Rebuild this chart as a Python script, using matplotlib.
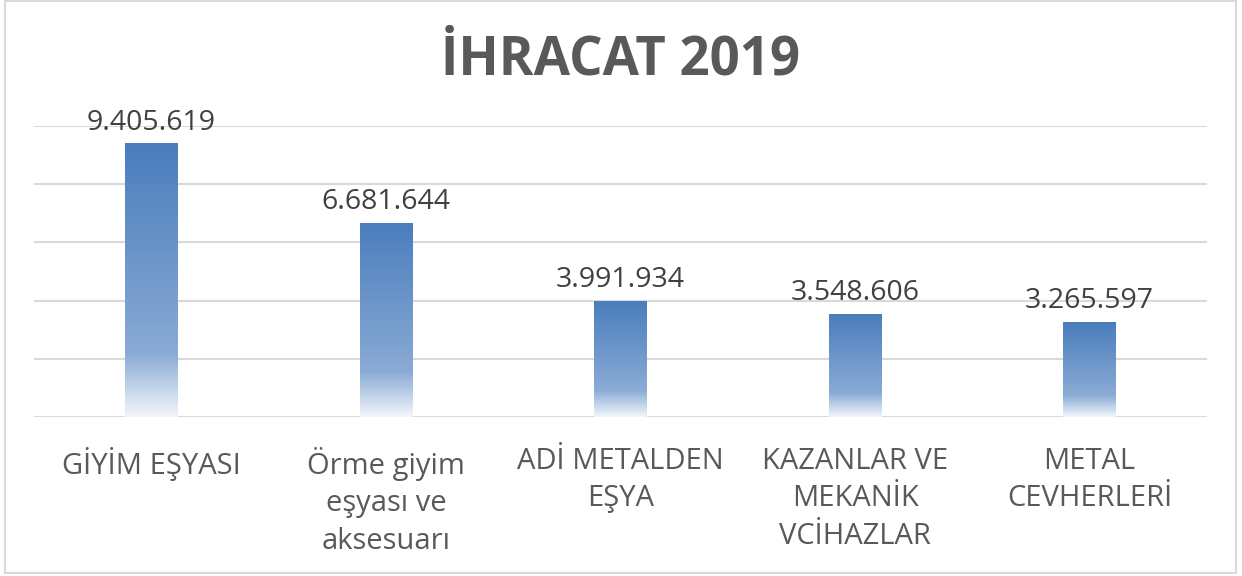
import matplotlib.pyplot as plt
import numpy as np
from matplotlib.colors import LinearSegmentedColormap
from matplotlib.patches import Rectangle

# --- Data ---
categories = ["GİYİM EŞYASI", "Örme giyim\neşyası ve\naksesuarı", "ADİ METALDEN\nEŞYA",
              "KAZANLAR VE\nMEKANİK\nVCİHAZLAR", "METAL\nCEVHERLERİ"]
values = [9405619, 6681644, 3991934, 3548606, 3265597]
value_labels = ["9.405.619", "6.681.644", "3.991.934", "3.548.606", "3.265.597"]

plt.rcParams['font.family'] = ['Open Sans', 'DejaVu Sans']

fig = plt.figure(figsize=(12.42, 5.76), dpi=100)
ax = fig.add_axes([0.0274, 0.276, 0.9444, 0.505])

# gradient: blue at top -> lighter blue -> almost white at bottom
cmap = LinearSegmentedColormap.from_list(
    "bar_grad", [(0.0, "#4a7dbd"), (0.77, "#8aabd5"), (1.0, "#f2f6fb")])
grad = np.linspace(0, 1, 256).reshape(-1, 1)

x = np.arange(len(categories))
bars = ax.bar(x, values, width=0.225, color="none", zorder=3)
for b in bars:
    x0, w, h = b.get_x(), b.get_width(), b.get_height()
    im = ax.imshow(grad, cmap=cmap, aspect="auto", extent=[x0, x0 + w, 0, h],
                   origin="upper", zorder=3)
    im.set_clip_path(b)

for xi, v, lab in zip(x, values, value_labels):
    ax.text(xi, v + 230000, lab, ha="center", va="bottom", fontsize=20.5, color="#404040")

ax.set_xlim(-0.5, len(categories) - 0.5)
ax.set_ylim(0, 10000000)
ax.set_yticks(np.arange(0, 10000001, 2000000))
ax.yaxis.grid(True, color="#d9d9d9", linewidth=1.5, zorder=0)
ax.set_axisbelow(True)
ax.tick_params(left=False, labelleft=False, bottom=False)
ax.set_xticks(x)
ax.set_xticklabels(categories, fontsize=21, color="#595959", linespacing=1.38, va="top")
ax.tick_params(axis="x", pad=18)
for s in ax.spines.values():
    s.set_visible(False)

fig.text(0.5, 0.895, "İHRACAT 2019", ha="center", va="center", fontsize=38,
         fontweight="bold", color="#595959")

fig.patches.append(Rectangle((0.004, 0.005), 0.991, 0.993, transform=fig.transFigure,
                             fill=False, edgecolor="#d9d9d9", linewidth=1.5))

fig.savefig("out.png", dpi=100)
